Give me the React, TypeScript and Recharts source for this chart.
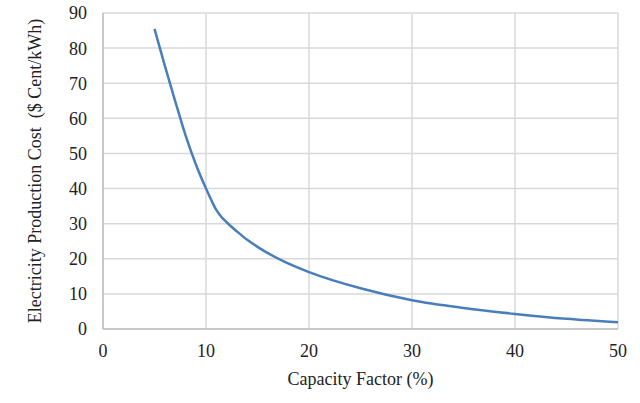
import React from 'react';
import { LineChart, Line, XAxis, YAxis, CartesianGrid, Label } from 'recharts';

const capacityFactor = [5, 6, 7, 8, 9, 10, 10.5, 11, 11.5, 12, 13, 14, 15, 17.5, 20, 25, 30, 35, 40, 45, 50];
const costCents = [85.5, 75.0, 65.0, 55.3, 47.0, 40.0, 36.8, 33.9, 31.9, 30.4, 27.8, 25.4, 23.4, 19.3, 16.2, 11.6, 8.2, 6.0, 4.3, 2.9, 1.9];
const xTicks = [0, 10, 20, 30, 40, 50];
const yTicks = [0, 10, 20, 30, 40, 50, 60, 70, 80, 90];

const data = capacityFactor.map((x, i) => ({ x, y: costCents[i] }));

const FONT = '"Liberation Serif", "Times New Roman", serif';
const tickStyle = { fontFamily: FONT, fontSize: 18, fill: '#222' };

const YTitle = (props: any) => {
  const vb = props.viewBox || {};
  const cx = 35;
  const cy = (vb.y ?? 0) + (vb.height ?? 0) / 2;
  return (
    <text
      x={cx}
      y={cy}
      transform={`rotate(-90, ${cx}, ${cy})`}
      textAnchor="middle"
      dominantBaseline="central"
      fontFamily={FONT}
      fontSize={18}
      fill="#222"
    >
      {'Electricity Production Cost \u00a0($ Cent/kWh)'}
    </text>
  );
};

export default function App() {
  return (
    <div style={{ position: 'absolute', left: 0, top: 0, background: '#fff' }}>
      <LineChart width={640} height={403} data={data} margin={{ top: 13, right: 22, bottom: 0, left: 0 }}>
        <CartesianGrid stroke="#d9d9d9" strokeWidth={1.5} />
        <XAxis
          dataKey="x"
          type="number"
          domain={[0, 50]}
          ticks={xTicks}
          height={74}
          tickLine={false}
          tickSize={0}
          tickMargin={15}
          axisLine={{ stroke: '#bfbfbf', strokeWidth: 1.5 }}
          tick={tickStyle}
        >
          <Label
            value="Capacity Factor (%)"
            position="insideBottom"
            offset={18}
            style={{ fontFamily: FONT, fontSize: 18, fill: '#222' }}
          />
        </XAxis>
        <YAxis
          type="number"
          domain={[0, 90]}
          ticks={yTicks}
          width={103}
          tickLine={false}
          tickSize={0}
          tickMargin={16}
          axisLine={{ stroke: '#bfbfbf', strokeWidth: 1.5 }}
          tick={tickStyle}
        >
          <Label content={<YTitle />} />
        </YAxis>
        <Line
          type="monotone"
          dataKey="y"
          stroke="#4a7ebb"
          strokeWidth={2.5}
          dot={false}
          isAnimationActive={false}
        />
      </LineChart>
    </div>
  );
}
